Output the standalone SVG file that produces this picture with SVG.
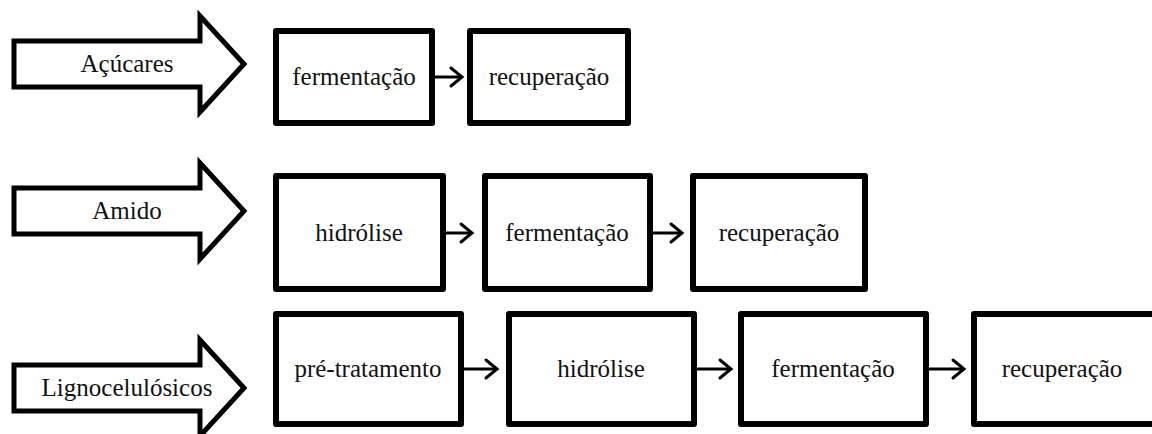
<svg xmlns="http://www.w3.org/2000/svg" width="1152" height="434" viewBox="0 0 1152 434">
  <style>
    .feed { fill: #fff; stroke: #000; stroke-width: 5; stroke-linejoin: miter; }
    .box { fill: #fff; stroke: #000; stroke-width: 6; stroke-linejoin: round; }
    .lbl { font-family: 'Liberation Serif', 'Times New Roman', serif; font-size: 25px; fill: #111; text-anchor: middle; }
    .link { stroke: #000; stroke-width: 3; fill: none; }
    .head { stroke: #000; stroke-width: 3; fill: none; stroke-linecap: round; stroke-linejoin: miter; }
  </style>
  <defs>
    <!-- block arrow centred on y=0 -->
    <path id="feedArrow" d="M14,-23 H200 V-48 L244,0 L200,48 V23 H14 Z"/>
    <!-- open chevron head, tip at 0,0 -->
    <path id="chev" d="M-11,-9 L0,0 L-11,9"/>
  </defs>
  <rect width="1152" height="434" fill="#fff"/>

  <!-- feedstock arrows -->
  <g id="acucares">
    <use href="#feedArrow" class="feed" transform="translate(0,64)"/>
    <text class="lbl" x="127" y="72">Açúcares</text>
  </g>
  <g id="amido">
    <use href="#feedArrow" class="feed" transform="translate(0,211)"/>
    <text class="lbl" x="127" y="219">Amido</text>
  </g>
  <g id="lignocelulosicos">
    <use href="#feedArrow" class="feed" transform="translate(0,388)"/>
    <text class="lbl" x="127" y="396">Lignocelulósicos</text>
  </g>

  <!-- row 1 -->
  <g id="r1-fermentacao">
    <rect class="box" x="276" y="31" width="156" height="92"/>
    <text class="lbl" x="354" y="85">fermentação</text>
  </g>
  <g id="r1-recuperacao">
    <rect class="box" x="470" y="31" width="158" height="92"/>
    <text class="lbl" x="549" y="85">recuperação</text>
  </g>

  <!-- row 2 -->
  <g id="r2-hidrolise">
    <rect class="box" x="276" y="176" width="167" height="113"/>
    <text class="lbl" x="359" y="241">hidrólise</text>
  </g>
  <g id="r2-fermentacao">
    <rect class="box" x="485" y="176" width="165" height="113"/>
    <text class="lbl" x="567" y="241">fermentação</text>
  </g>
  <g id="r2-recuperacao">
    <rect class="box" x="693" y="176" width="172" height="113"/>
    <text class="lbl" x="779" y="241">recuperação</text>
  </g>

  <!-- row 3 -->
  <g id="r3-pretratamento">
    <rect class="box" x="276" y="314" width="185" height="110"/>
    <text class="lbl" x="368" y="377">pré-tratamento</text>
  </g>
  <g id="r3-hidrolise">
    <rect class="box" x="509" y="314" width="185" height="110"/>
    <text class="lbl" x="601" y="377">hidrólise</text>
  </g>
  <g id="r3-fermentacao">
    <rect class="box" x="741" y="314" width="185" height="110"/>
    <text class="lbl" x="833" y="377">fermentação</text>
  </g>
  <g id="r3-recuperacao">
    <rect class="box" x="974" y="314" width="200" height="110"/>
    <text class="lbl" x="1062" y="377">recuperação</text>
  </g>

  <!-- connectors -->
  <g id="connectors">
    <line class="link" x1="435" y1="77" x2="462" y2="77"/>
    <use href="#chev" class="head" transform="translate(462,77)"/>

    <line class="link" x1="446" y1="233" x2="472" y2="233"/>
    <use href="#chev" class="head" transform="translate(472,233)"/>
    <line class="link" x1="653" y1="233" x2="682" y2="233"/>
    <use href="#chev" class="head" transform="translate(682,233)"/>

    <line class="link" x1="464" y1="369" x2="497" y2="369"/>
    <use href="#chev" class="head" transform="translate(497,369)"/>
    <line class="link" x1="697" y1="369" x2="731" y2="369"/>
    <use href="#chev" class="head" transform="translate(731,369)"/>
    <line class="link" x1="929" y1="369" x2="964" y2="369"/>
    <use href="#chev" class="head" transform="translate(964,369)"/>
  </g>
</svg>
